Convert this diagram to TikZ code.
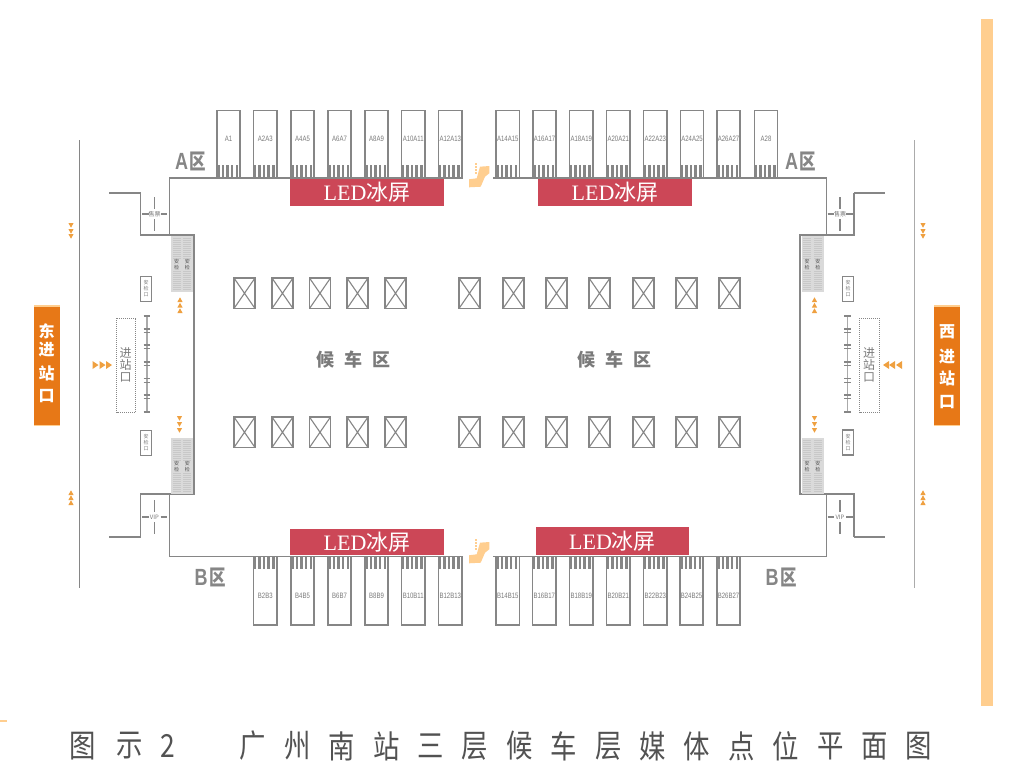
\documentclass[tikz,border=0pt]{standalone}
\usepackage{graphicx}
\usepackage{fontspec}
\setmainfont{Liberation Sans}
\newfontfamily\cjk{Noto Sans CJK SC}
\newfontfamily\ledfont{Liberation Serif}
\definecolor{wallc}{HTML}{868686}
\definecolor{ledred}{HTML}{CC4757}
\definecolor{barc}{HTML}{FFCE8F}
\definecolor{orangec}{HTML}{E77817}
\definecolor{tric}{HTML}{EFA040}
\definecolor{secc}{HTML}{DADADA}
\definecolor{txtc}{HTML}{7A7A7A}
\tikzset{
  wall/.style={draw=wallc,line width=1.5pt},
  thinwall/.style={draw=wallc,line width=1.1pt},
  kioskbox/.style={draw=wallc,line width=1.5pt,fill=white,inner sep=0},
  kiosktxt/.style={text=txtc,font=\fontsize{6}{7}\selectfont,inner sep=0},
  pillarbox/.style={draw=wallc,line width=1.7pt},
  ledbox/.style={fill=ledred,text=white,inner sep=0,font=\fontsize{22}{23}\selectfont},
  zone/.style={text=wallc,inner sep=0,font=\cjk\bfseries\fontsize{16.5}{17}\selectfont},
  zonelat/.style={text=wallc,inner sep=0,font=\bfseries\fontsize{18}{18}\selectfont},
  hall/.style={text=txtc,inner sep=0,font=\cjk\bfseries\fontsize{18}{18}\selectfont},
  small/.style={text=txtc,inner sep=0,font=\cjk\fontsize{6}{6}\selectfont},
  gate/.style={text=txtc,inner sep=0,font=\cjk\fontsize{12}{12}\selectfont},
  side/.style={text=white,inner sep=0,font=\cjk\bfseries\fontsize{16}{16}\selectfont},
  titletxt/.style={text=black!68,inner sep=0,font=\cjk\fontsize{30}{30}\selectfont},
  tri/.style={fill=tric,draw=none},
}
\newcommand{\stretchy}[1]{\scalebox{1}[1.3]{#1}}
\newcommand{\titlechar}[1]{\scalebox{0.88}[1.06]{#1}}
\newcommand{\kioskA}[4]{%
  \draw[kioskbox] (#1,178) |- (#2,110.5) -- (#2,178);
  \foreach \k in {0,1,2,3,4}{\fill[wallc] ({#1+\k*4.6+0.1},165) rectangle ++(2.5,13);}
  \node[kiosktxt] (#4) at ({(#1+#2)/2},139) {\stretchy{#3}};}
\newcommand{\kioskB}[4]{%
  \draw[kioskbox] (#1,557) |- (#2,625) -- (#2,557);
  \foreach \k in {0,1,2,3,4}{\fill[wallc] ({#1+\k*4.6+0.1},557) rectangle ++(2.5,12);}
  \node[kiosktxt] (#4) at ({(#1+#2)/2},595.5) {\stretchy{#3}};}
\newcommand{\pillar}[2]{%
  \draw[pillarbox] (#1,#2) rectangle ({#1+21},{#2+30.5});
  \draw[thinwall] (#1,#2) -- ({#1+21},{#2+30.5}) (#1,{#2+30.5}) -- ({#1+21},#2);}
\newcommand{\secblock}[2]{%
  \fill[secc] (#1,#2) rectangle ({#1+22},{#2+56});
  \foreach \c in {1.7,12.3}{
    \foreach \j in {0,...,10}{\fill[wallc!45] ({#1+\c},{#2+1.5+\j*2}) rectangle ++(8,0.8);}
    \foreach \j in {0,...,9}{\fill[wallc!45] ({#1+\c},{#2+35+\j*2}) rectangle ++(8,0.8);}
    \node[text=black!70,inner sep=0,align=center,font=\cjk\fontsize{5}{5.5}\selectfont] at ({#1+\c+4},{#2+28.5}) {安\\检};
  }}
\newcommand{\triR}[2]{\fill[tri] (#1,{#2-4}) -- ({#1+6},#2) -- (#1,{#2+4}) -- cycle;}
\newcommand{\triL}[2]{\fill[tri] (#1,{#2-4}) -- ({#1-6},#2) -- (#1,{#2+4}) -- cycle;}
\newcommand{\triU}[2]{\fill[tri] ({#1-2.6},{#2+2}) -- (#1,{#2-2.7}) -- ({#1+2.6},{#2+2}) -- cycle;}
\newcommand{\triD}[2]{\fill[tri] ({#1-2.6},{#2-2}) -- (#1,{#2+2.7}) -- ({#1+2.6},{#2-2}) -- cycle;}
\newcommand{\doorcross}[3]{%
  \draw[thinwall] (#1,{#2-17}) -- (#1,{#2-5}) (#1,{#2+5}) -- (#1,{#2+17});
  \draw[thinwall] ({#1-12.5},#2) -- ({#1-6},#2) ({#1+6},#2) -- ({#1+12.5},#2);
  \node[small,font=\fontsize{6}{6}\selectfont\cjk] at (#1,#2) {#3};}
\newcommand{\ticketbox}[3]{%
  \node[draw=wallc,line width=1.1pt,minimum width=11pt,minimum height=25pt,inner sep=0,fill=white,
    align=center,text=txtc,font=\cjk\fontsize{5}{6}\selectfont] (#3) at (#1,#2) {安\\检\\口};}
\newcommand{\turnstile}[1]{%
  \draw[draw=wallc!70,line width=1.3pt] (#1,316) -- (#1,412);
  \foreach \y in {316,412}{\draw[draw=wallc,line width=1.4pt] ({#1-3.4},\y) -- ({#1+3.4},\y);}
  \foreach \y in {329,345,362,378.5,395}{\draw[draw=wallc,line width=1.3pt] ({#1-3.4},\y) -- ({#1+3.4},\y) ({#1-3.4},{\y+3.7}) -- ({#1+3.4},{\y+3.7});}}
\newcommand{\escal}[1]{%
  \fill[barc] (469,{179.3+#1}) -- (476.7,{178.3+#1}) -- (480,{166.7+#1}) -- (489.3,{166+#1}) -- (489.3,{173.3+#1}) -- (485,{176.7+#1}) -- (480.7,{186.7+#1}) -- (469,{187.3+#1}) -- cycle;
  \foreach \y in {163,166,169,172}{\fill[barc] (475.3,{\y+#1}) rectangle ++(1.5,1.5);}}
\begin{document}
\begin{tikzpicture}[x=1pt,y=-1pt]
\useasboundingbox (0,0) rectangle (1018,771);
\fill[white] (0,0) rectangle (1018,771);
% right bar and corner tick
\fill[barc] (981,19) rectangle (993,706);
\fill[barc] (0,719.5) rectangle (7,721.5);
% outer rails
\draw[draw=wallc,line width=1.9pt] (79.5,140) -- (79.5,588);
\draw[draw=black!33,line width=1.9pt] (914.5,140) -- (914.5,588);
% kiosks top
\kioskA{217}{240}{A1}{ka1}
\kioskA{253.5}{277}{A2A3}{ka2}
\kioskA{291}{314}{A4A5}{ka4}
\kioskA{328}{351}{A6A7}{ka6}
\kioskA{365}{388}{A8A9}{ka8}
\kioskA{401.5}{425}{A10A11}{ka10}
\kioskA{438.5}{462}{A12A13}{ka12}
\kioskA{496}{519.5}{A14A15}{ka14}
\kioskA{533}{556}{A16A17}{ka16}
\kioskA{569.5}{593}{A18A19}{ka18}
\kioskA{606.5}{630}{A20A21}{ka20}
\kioskA{643.5}{667}{A22A23}{ka22}
\kioskA{680.5}{703.5}{A24A25}{ka24}
\kioskA{717}{740}{A26A27}{ka26}
\kioskA{754.5}{777.5}{A28}{ka28}
% kiosks bottom
\kioskB{253.5}{277}{B2B3}{kb2}
\kioskB{291}{314}{B4B5}{kb4}
\kioskB{328}{351}{B6B7}{kb6}
\kioskB{365}{388}{B8B9}{kb8}
\kioskB{401.5}{425}{B10B11}{kb10}
\kioskB{438.5}{462}{B12B13}{kb12}
\kioskB{496}{519.5}{B14B15}{kb14}
\kioskB{532.5}{556}{B16B17}{kb16}
\kioskB{569.5}{593}{B18B19}{kb18}
\kioskB{606.5}{630}{B20B21}{kb20}
\kioskB{643.5}{667}{B22B23}{kb22}
\kioskB{680}{703}{B24B25}{kb24}
\kioskB{717}{740}{B26B27}{kb26}
% hall walls
\draw[wall] (463,178) -- (169.5,178) -- (169.5,235);
\draw[wall] (493,178) -- (826.5,178) -- (826.5,235);
\draw[wall] (463,556.5) -- (169.5,556.5) -- (169.5,494);
\draw[wall] (493,556.5) -- (826.5,556.5) -- (826.5,494);
\draw[wall] (140.5,193) |- (194,235) -- (194,494) -| (140.5,537);
\draw[wall] (854,193) |- (800,235) -- (800,494) -| (854,537);
\draw[draw=wallc,line width=2.2pt] (109,193) -- (140.5,193);
\draw[draw=wallc,line width=1.6pt] (109,537) -- (140.5,537);
\draw[draw=wallc,line width=2.2pt] (854,193) -- (885,193);
\draw[draw=wallc,line width=1.6pt] (854,537) -- (885,537);
% doors
\doorcross{154.5}{214}{售票}
\doorcross{840}{214}{售票}
\doorcross{154.5}{517}{VIP}
\doorcross{840}{517}{VIP}
% security blocks
\secblock{171}{236}
\secblock{171}{438}
\secblock{801.5}{236}
\secblock{801.5}{438}
% pillars
\foreach \y in {278,417}{
  \foreach \x in {234,272,309.5,347,385,459,503,546,589,633,676,719}{\pillar{\x}{\y}}
}
% LED screens
\node[ledbox,minimum width=154pt,minimum height=27pt] (led1) at (367,192.5) {\ledfont LED\cjk 冰屏};
\node[ledbox,minimum width=154pt,minimum height=27pt] (led2) at (615,192.5) {\ledfont LED\cjk 冰屏};
\node[ledbox,minimum width=154pt,minimum height=26pt] (led3) at (367,542) {\ledfont LED\cjk 冰屏};
\node[ledbox,minimum width=153pt,minimum height=28pt] (led4) at (612.5,541) {\ledfont LED\cjk 冰屏};
% escalators
\escal{0}
\escal{376}
% zones
\node[zonelat] (za1) at (181.5,161.5) {\stretchy{A}}; \node[zone] (zb1) at (198,161.5) {\stretchy{区}};
\node[zonelat] (za2) at (791.5,161.5) {\stretchy{A}}; \node[zone] (zb2) at (807.5,161.5) {\stretchy{区}};
\node[zonelat] (za3) at (201,577) {\stretchy{B}}; \node[zone] (zb3) at (218,577) {\stretchy{区}};
\node[zonelat] (za4) at (772,577) {\stretchy{B}}; \node[zone] (zb4) at (789,577) {\stretchy{区}};
% hall labels
\foreach \c/\x in {候/325,车/353,区/381,候/586,车/614,区/642}{\node[hall] at (\x,360) {\c};}
% orange side boxes
\fill[barc] (34,305) rectangle (60,426);
\fill[orangec] (34,306.5) rectangle (60,424.5);
\fill[barc] (934,305) rectangle (960,426);
\fill[orangec] (934,306.5) rectangle (960,424.5);
\foreach \c/\y in {东/331,进/350,站/373,口/396}{\node[side] at (46.7,\y) {\c};}
\foreach \c/\y in {西/332,进/357,站/378,口/402}{\node[side] at (947,\y) {\c};}
% gates
\draw[draw=wallc,line width=1pt,densely dotted] (116.5,318) rectangle (135.5,412.5);
\draw[draw=wallc,line width=1pt,densely dotted] (859.5,318) rectangle (879,412.5);
\foreach \c/\y in {进/353,站/365,口/377}{\node[gate] at (125.5,\y) {\c}; \node[gate] at (869,\y) {\c};}
\turnstile{147}
\turnstile{847.5}
\ticketbox{146.2}{289}{tb1}
\ticketbox{146.2}{443}{tb2}
\ticketbox{848.2}{289}{tb3}
\ticketbox{848.2}{442.5}{tb4}
% triangles
\foreach \x in {92.5,99.5,106}{\triR{\x}{365}}
\foreach \x in {889,895,902}{\triL{\x}{365}}
\foreach \y in {300,305.5,311}{\triU{180}{\y} \triU{814.5}{\y}}
\foreach \y in {418,424,430}{\triD{179.5}{\y} \triD{814.5}{\y}}
\foreach \y in {225,231,236}{\triD{71}{\y} \triD{923}{\y}}
\foreach \y in {493,498,503}{\triU{71}{\y} \triU{923}{\y}}
% title
\foreach \c/\x in {图/82.5,示/130,2/167.5}{\node[titletxt] at (\x,746) {\titlechar{\c}};}
\foreach \c [count=\i from 0] in {广,州,南,站,三,层,候,车,层,媒,体,点,位,平,面,图}{
  \node[titletxt] at ({253+\i*44.4},746) {\titlechar{\c}};}
\end{tikzpicture}
\end{document}
